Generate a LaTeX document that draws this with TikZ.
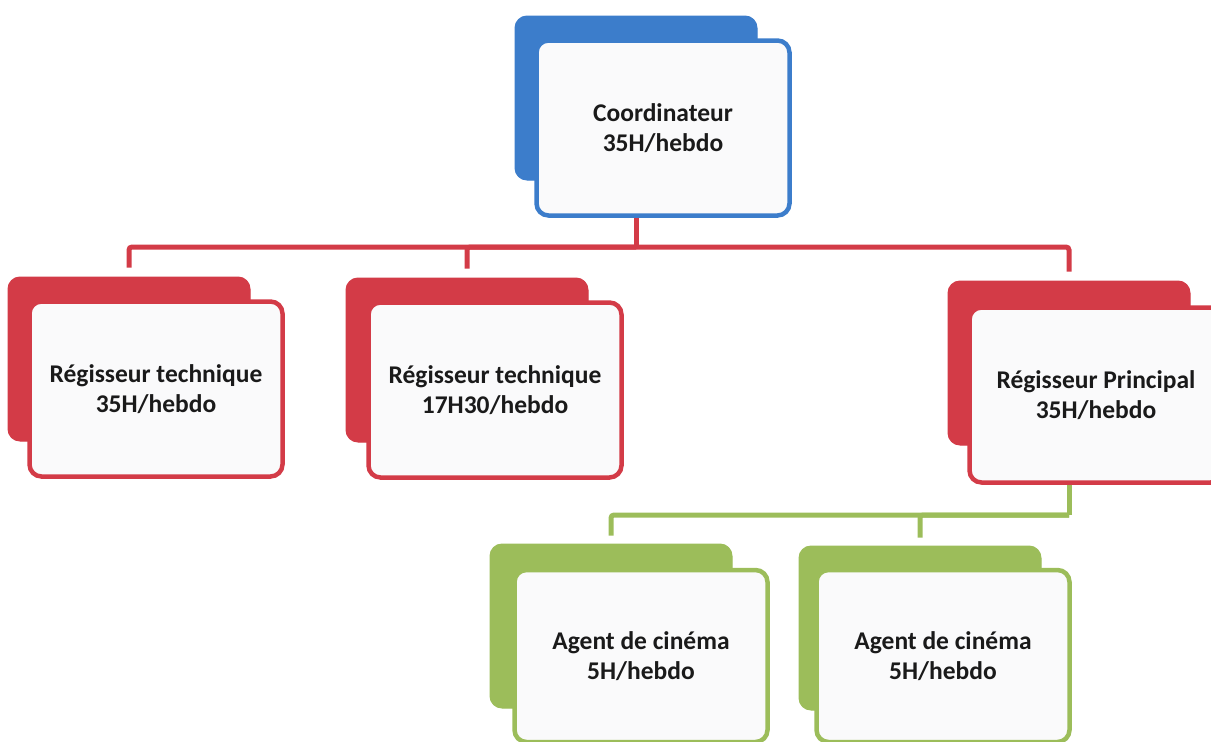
\documentclass[tikz,border=0pt]{standalone}
\usepackage{fontspec}
\setmainfont{Carlito}
\definecolor{cblue}{HTML}{3C7DCB}
\definecolor{cred}{HTML}{D33B47}
\definecolor{cgreen}{HTML}{9CBD5A}
\definecolor{ctext}{HTML}{1A1A1A}
\definecolor{cfill}{HTML}{FAFAFB}
\tikzset{
  backbox/.style={rounded corners=12pt, fill=#1, draw=#1, line width=1pt,
    minimum width=242pt, minimum height=164pt, inner sep=0pt},
  frontbox/.style={rounded corners=12pt, fill=cfill, draw=#1, line width=4.5pt,
    minimum width=253pt, minimum height=175pt, inner sep=0pt, align=center,
    text=ctext, font=\fontsize{25.5}{30.5}\selectfont\bfseries},
  link/.style={draw=#1, line width=5pt, rounded corners=3pt},
}
\begin{document}
\begin{tikzpicture}[x=1pt,y=-1pt]
\useasboundingbox (0,0) rectangle (1211,742);
% connectors
\coordinate (bus) at (636,247);
\coordinate (gbus) at (1069,515);
% top
\node[backbox=cblue] (cb) at (636,98) {};
\node[frontbox=cblue, minimum height=175pt] (c) at (663,128) {Coordinateur\\35H/hebdo};
% red level
\node[backbox=cred] (rb1) at (129,359) {};
\node[frontbox=cred] (r1) at (156,389) {Régisseur technique\\35H/hebdo};
\node[backbox=cred] (rb2) at (467,360) {};
\node[frontbox=cred] (r2) at (495,390) {Régisseur technique\\17H30/hebdo};
\node[backbox=cred] (rb3) at (1069,363) {};
\node[frontbox=cred] (r3) at (1096,395) {Régisseur Principal\\35H/hebdo};
% green level
\node[backbox=cgreen] (gb1) at (611,626) {};
\node[frontbox=cgreen, minimum height=172pt] (g1) at (641,656) {Agent de cinéma\\5H/hebdo};
\node[backbox=cgreen] (gb2) at (920,628) {};
\node[frontbox=cgreen, minimum height=172pt] (g2) at (943,656) {Agent de cinéma\\5H/hebdo};
\draw[link=cred] (c.south -| cb.south) -- (bus);
\draw[link=cred, shorten >=9pt] (bus) -| (rb1.north);
\draw[link=cred, shorten >=9pt] (bus) -| (rb2.north);
\draw[link=cred, shorten >=9pt] (bus) -| (rb3.north);
\draw[link=cgreen] (r3.south -| rb3.south) -- (gbus);
\draw[link=cgreen, shorten >=8pt] (gbus) -| (gb1.north);
\draw[link=cgreen, shorten >=8pt] (gbus) -| (gb2.north);
\end{tikzpicture}
\end{document}
